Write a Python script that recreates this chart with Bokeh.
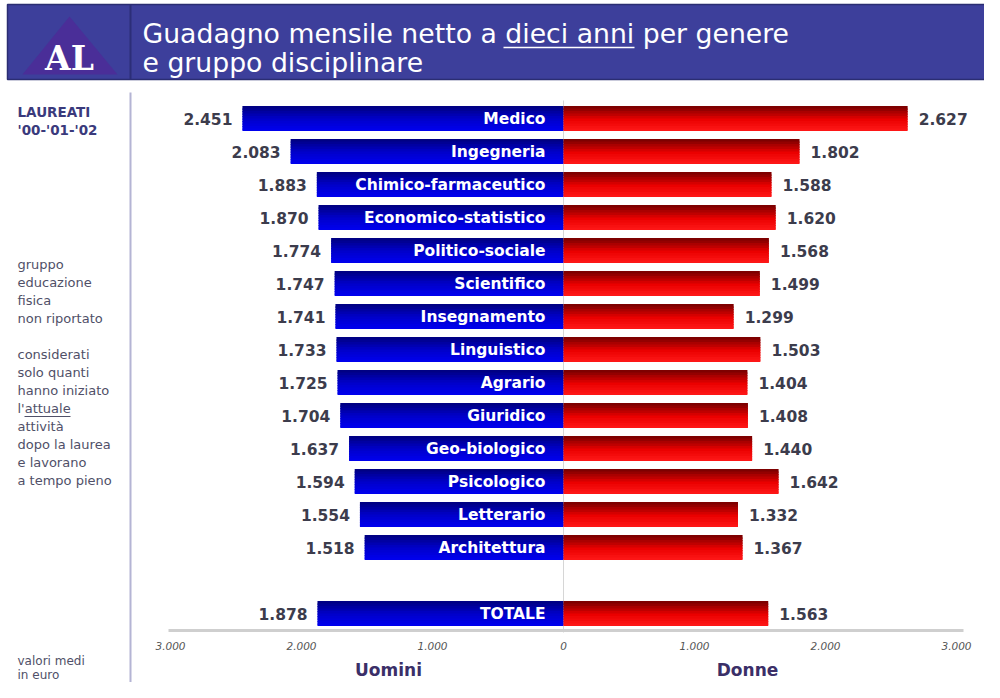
from bokeh.plotting import figure
from bokeh.models import Range1d
from bokeh.core.properties import value
from bokeh.embed import file_html
from bokeh.resources import INLINE

# ---------------- data ----------------
categories = ["Medico", "Ingegneria", "Chimico-farmaceutico", "Economico-statistico",
              "Politico-sociale", "Scientifico", "Insegnamento", "Linguistico",
              "Agrario", "Giuridico", "Geo-biologico", "Psicologico", "Letterario",
              "Architettura", "TOTALE"]
uomini = [2451, 2083, 1883, 1870, 1774, 1747, 1741, 1733, 1725, 1704, 1637, 1594, 1554, 1518, 1878]
donne = [2627, 1802, 1588, 1620, 1568, 1499, 1299, 1503, 1404, 1408, 1440, 1642, 1332, 1367, 1563]
row_slot = [0, 1, 2, 3, 4, 5, 6, 7, 8, 9, 10, 11, 12, 13, 15]   # gap before TOTALE
tick_values = [-3000, -2000, -1000, 0, 1000, 2000, 3000]

title_line1 = "Guadagno mensile netto a dieci anni per genere"
title_line2 = "e gruppo disciplinare"
side_top = ["LAUREATI", " '00-'01-'02"]
side_notes = ["gruppo", "educazione", "fisica", "non riportato", "",
              "considerati", "solo quanti", "hanno iniziato", "l'attuale", "attività",
              "dopo la laurea", "e lavorano", "a tempo pieno"]
side_bottom = ["valori medi", "in euro"]

# ---------------- layout helpers ----------------
W, H = 984, 682
PX_PER_UNIT = 0.131
ZERO_PX = 571           # page x of zero
def X(px):              # page pixel -> data x
    return (px - ZERO_PX) / PX_PER_UNIT
def fmt(v):
    return f"{abs(v):,}".replace(",", ".")

p = figure(width=W, height=H, output_backend="svg", toolbar_location=None,
           x_range=Range1d(X(8), X(992)), y_range=Range1d(690, 8),
           x_axis_location=None, y_axis_location=None, min_border=0,
           background_fill_color="white", border_fill_color="white")
p.grid.visible = False
p.outline_line_color = None

FONT = value("DejaVu Sans")

# ---------------- header ----------------
p.quad(left=[X(15)], right=[X(1000)], top=[12], bottom=[87],
       fill_color="#3d3f9b", line_color="#2b2d72", line_width=1.5)
p.segment(x0=[X(138)], x1=[X(138)], y0=[12], y1=[87], line_color="#2c2e78", line_width=2)
p.patch(x=[X(30), X(77), X(125)], y=[82, 24, 82], fill_color="#4a2e98", line_color=None)
p.text(x=[X(77)], y=[66], text=["AL"], text_font=value("DejaVu Serif"), text_font_style="bold",
       text_font_size="33px", text_color="white", text_align="center", text_baseline="middle")
p.text(x=[X(150)], y=[41], text=[title_line1], text_font=FONT, text_font_size="26.7px",
       text_color="white", text_align="left", text_baseline="middle")
p.text(x=[X(150)], y=[70], text=[title_line2], text_font=FONT, text_font_size="26.7px",
       text_color="white", text_align="left", text_baseline="middle")
p.segment(x0=[X(511)], x1=[X(642)], y0=[55], y1=[55], line_color="white", line_width=1.5)

# ---------------- sidebar ----------------
p.segment(x0=[X(138)], x1=[X(138)], y0=[100], y1=[700], line_color="#b4b4d4", line_width=2)
p.text(x=[X(25), X(25)], y=[119, 137], text=side_top, text_font=FONT, text_font_style="bold",
       text_font_size="13.5px", text_color="#3a3a7c", text_align="left", text_baseline="middle")
note_y = [272 + 18 * i for i in range(len(side_notes))]
p.text(x=[X(25)] * len(side_notes), y=note_y, text=side_notes, text_font=FONT,
       text_font_size="13px", text_color="#505068", text_align="left", text_baseline="middle")
p.segment(x0=[X(32)], x1=[X(78)], y0=[note_y[8] + 8], y1=[note_y[8] + 8],
          line_color="#505068", line_width=1)
p.text(x=[X(25), X(25)], y=[668, 682], text=side_bottom, text_font=FONT,
       text_font_size="12px", text_color="#505068", text_align="left", text_baseline="middle")

# ---------------- bars ----------------
ROW0, STEP, BAR_H = 126, 33, 25
yc = [ROW0 + STEP * s for s in row_slot]

blue_stops = [(0.0, (0, 0, 125)), (0.5, (0, 0, 200)), (1.0, (0, 0, 240))]
red_stops = [(0.0, (115, 0, 0)), (0.55, (235, 0, 0)), (1.0, (255, 25, 25))]
def interp(stops, t):
    for (t0, c0), (t1, c1) in zip(stops[:-1], stops[1:]):
        if t <= t1:
            f = (t - t0) / (t1 - t0)
            return "#%02x%02x%02x" % tuple(int(round(a + (b - a) * f)) for a, b in zip(c0, c1))
    return "#%02x%02x%02x" % stops[-1][1]

N = 10
# zero line and axis line
p.segment(x0=[0], x1=[0], y0=[108], y1=[640], line_color="#d6d6d6", line_width=1)
p.segment(x0=[X(176)], x1=[X(971)], y0=[638], y1=[638], line_color="#cfcfcf", line_width=3)

for k in range(N):
    t = (k + 0.5) / N
    top_edge = [y - BAR_H / 2 + k * BAR_H / N for y in yc]
    bottom_edge = [y - BAR_H / 2 + (k + 1) * BAR_H / N + (1.2 if k < N - 1 else 0) for y in yc]
    p.quad(top=top_edge, bottom=bottom_edge, left=[-v for v in uomini], right=[0] * len(uomini),
           fill_color=interp(blue_stops, t), line_color=None)
    p.quad(top=top_edge, bottom=bottom_edge, left=[0] * len(donne), right=donne,
           fill_color=interp(red_stops, t), line_color=None)

# category labels in blue bars
p.text(x=[X(553)] * len(categories), y=yc, text=categories, text_font=FONT,
       text_font_style="bold", text_font_size="15.5px", text_color="white",
       text_align="right", text_baseline="middle")
# value labels
p.text(x=[-v - 10 / PX_PER_UNIT for v in uomini], y=yc, text=[fmt(v) for v in uomini],
       text_font=FONT, text_font_style="bold", text_font_size="15.5px", text_color="#3c3c4c",
       text_align="right", text_baseline="middle")
p.text(x=[v + 11 / PX_PER_UNIT for v in donne], y=yc, text=[fmt(v) for v in donne],
       text_font=FONT, text_font_style="bold", text_font_size="15.5px", text_color="#3c3c4c",
       text_align="left", text_baseline="middle")

# tick labels
p.text(x=tick_values, y=[653] * len(tick_values), text=[fmt(v) for v in tick_values],
       text_font=FONT, text_font_style="italic", text_font_size="10.5px", text_color="#555555",
       text_align="center", text_baseline="middle")
# side labels
p.text(x=[X(396), X(755)], y=[677, 677], text=["Uomini", "Donne"], text_font=FONT,
       text_font_style="bold", text_font_size="17px", text_color="#3b2f68",
       text_align="center", text_baseline="middle")

open("out.html", "w").write(file_html(p, INLINE))
